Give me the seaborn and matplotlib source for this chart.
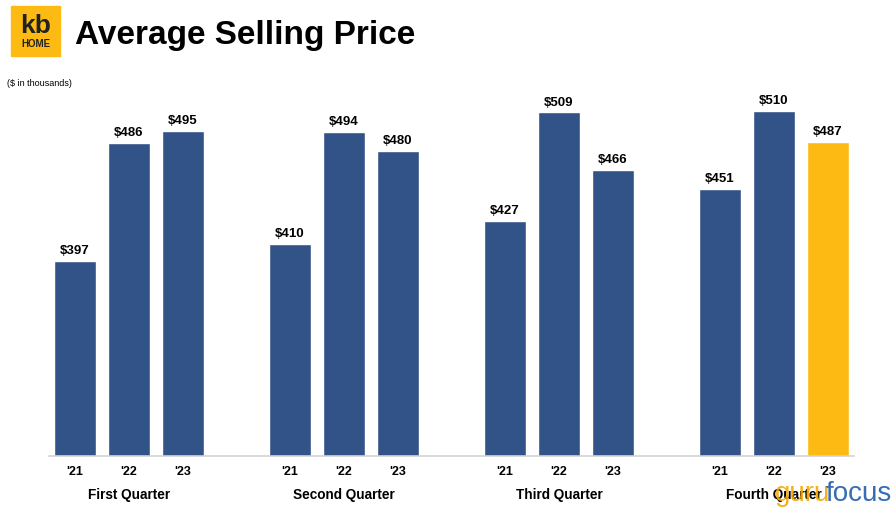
import pandas as pd
import matplotlib.pyplot as plt
import seaborn as sns
from matplotlib.patches import Rectangle

quarters = ['First Quarter', 'Second Quarter', 'Third Quarter', 'Fourth Quarter']
years = ["'21", "'22", "'23"]
prices = [
    [397, 486, 495],
    [410, 494, 480],
    [427, 509, 466],
    [451, 510, 487],
]

navy = '#325388'
gold = '#FDBA12'

rows = []
for q, vals in zip(quarters, prices):
    for y, v in zip(years, vals):
        rows.append({'Quarter': q, 'Year': y, 'Price': v})
df = pd.DataFrame(rows)

sns.set_style('white')
plt.rcParams['font.family'] = ['Liberation Sans', 'DejaVu Sans']
plt.rcParams['text.color'] = 'black'
plt.rcParams['xtick.color'] = 'black'

fig = plt.figure(figsize=(8.96, 5.2), dpi=100)
ax = fig.add_axes([49 / 896, 64 / 520, 805 / 896, 376 / 520])

sns.barplot(data=df, x='Quarter', y='Price', hue='Year', order=quarters,
            hue_order=years, palette=[navy] * 3, width=0.754, gap=0.22,
            legend=False, ax=ax, saturation=1)

ax.set_ylim(250, 533.5)
ax.set_xlim(-0.372, 3.372)

# colour the latest quarter yellow, label every bar
for container, y in zip(ax.containers, years):
    for i, bar in enumerate(container):
        val = prices[i][years.index(y)]
        cx = bar.get_x() + bar.get_width() / 2
        if i == 3 and y == "'23":
            bar.set_facecolor(gold)
        ax.text(cx, bar.get_height() + 3, f'${val}', ha='center', va='bottom',
                fontsize=9.5, fontweight='bold')
        ax.text(cx, 250 - 7.5, y, ha='center', va='top', fontsize=9,
                fontweight='bold')

ax.set_xticks(range(4))
ax.set_xticklabels(quarters, fontsize=9.8, fontweight='bold')
ax.tick_params(axis='x', length=0, pad=23)
ax.set_yticks([])
ax.set_xlabel('')
ax.set_ylabel('')
for s in ['top', 'left', 'right']:
    ax.spines[s].set_visible(False)
ax.spines['bottom'].set_color('#d3d3d3')
ax.spines['bottom'].set_linewidth(1.2)

# header
fig.patches.append(Rectangle((11 / 896, 1 - 56 / 520), 49 / 896, 50 / 520,
                             transform=fig.transFigure, color='#FDBA12'))
fig.text(35.5 / 896, 1 - 33 / 520, 'kb', ha='center', va='baseline',
         fontsize=19, fontweight='bold', color='#222222')
fig.text(35.5 / 896, 1 - 47 / 520, 'HOME', ha='center', va='baseline',
         fontsize=7, fontweight='bold', color='#222222')
fig.text(75 / 896, 1 - 44 / 520, 'Average Selling Price', ha='left',
         va='baseline', fontsize=24, fontweight='bold')
fig.text(7 / 896, 1 - 83 / 520, '($ in thousands)', ha='left', va='center',
         fontsize=6.5)

# watermark
fig.text(775 / 896, 1 - 494 / 520, 'guru', ha='left', va='center',
         fontsize=20, color='#F5A800', alpha=0.9, zorder=5)
fig.text(826 / 896, 1 - 494 / 520, 'focus', ha='left', va='center',
         fontsize=20, color='#1F5FAA', alpha=0.9, zorder=5)

fig.savefig('out.png', dpi=100)
